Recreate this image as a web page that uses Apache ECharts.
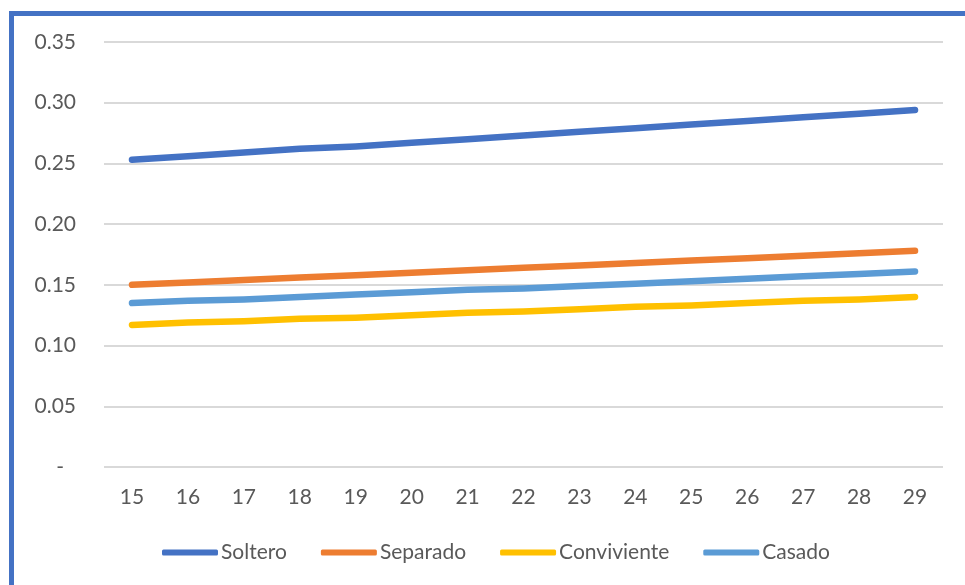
<!DOCTYPE html>
<html>
<head>
<meta charset="utf-8">
<script src="https://cdn.jsdelivr.net/npm/echarts@6/dist/echarts.min.js"></script>
<style>
  html, body { margin: 0; padding: 0; background: #fff; }
  #chart { width: 965px; height: 585px; }
</style>
</head>
<body>
<div id="chart"></div>
<script>
// edades
var ages = ['15','16','17','18','19','20','21','22','23','24','25','26','27','28','29'];

// estado civil
var soltero     = [0.253, 0.256, 0.259, 0.262, 0.264, 0.267, 0.270, 0.273, 0.276, 0.279, 0.282, 0.285, 0.288, 0.291, 0.294];
var separado    = [0.150, 0.152, 0.154, 0.156, 0.158, 0.160, 0.162, 0.164, 0.166, 0.168, 0.170, 0.172, 0.174, 0.176, 0.178];
var conviviente = [0.117, 0.119, 0.120, 0.122, 0.123, 0.125, 0.127, 0.128, 0.130, 0.132, 0.133, 0.135, 0.137, 0.138, 0.140];
var casado      = [0.135, 0.137, 0.138, 0.140, 0.142, 0.144, 0.146, 0.147, 0.149, 0.151, 0.153, 0.155, 0.157, 0.159, 0.161];

var font = 'Lato';
var txt = '#595959';

function serie(name, data, color) {
    return {
        name: name,
        type: 'line',
        data: data,
        symbol: 'none',
        smooth: false,
        color: color,
        lineStyle: { color: color, width: 6.5, cap: 'round', join: 'round' }
    };
}

var chart = echarts.init(document.getElementById('chart'));
var option = {
    backgroundColor: '#fff',
    animation: false,
    graphic: [{
        type: 'rect',
        shape: { x: 11.5, y: 13.5, width: 2000, height: 2000 },
        style: { fill: 'none', stroke: '#4472C4', lineWidth: 5 }
    }],
    grid: { left: 104, right: 22, top: 42, bottom: 118 },
    legend: {
        left: 157,
        top: 537,
        itemWidth: 56,
        itemHeight: 6,
        itemGap: 34,
        icon: 'roundRect',
        textStyle: { fontFamily: font, fontSize: 21, color: txt, padding: [0, 0, 0, -2] },
        data: ['Soltero', 'Separado', 'Conviviente', 'Casado']
    },
    xAxis: {
        type: 'category',
        data: ages,
        boundaryGap: true,
        axisLine: { show: false },
        axisTick: { show: false },
        axisLabel: { fontFamily: font, fontSize: 21, color: txt, margin: 20 }
    },
    yAxis: {
        type: 'value',
        min: 0,
        max: 0.35,
        interval: 0.05,
        axisLine: { show: false },
        axisTick: { show: false },
        splitLine: { lineStyle: { color: '#d9d9d9', width: 2 } },
        axisLabel: {
            fontFamily: font, fontSize: 21, color: txt, margin: 28,
            formatter: function (v) {
                return v === 0 ? '{z|-}' : v.toFixed(2);
            },
            rich: { z: { fontFamily: font, fontSize: 21, color: txt, padding: [0, 12, 0, 0] } }
        }
    },
    series: [
        serie('Soltero', soltero, '#4472C4'),
        serie('Separado', separado, '#ED7D31'),
        serie('Conviviente', conviviente, '#FFC000'),
        serie('Casado', casado, '#5B9BD5')
    ]
};
chart.setOption(option);
window.addEventListener('resize', function () { chart.resize(); });
</script>
</body>
</html>
